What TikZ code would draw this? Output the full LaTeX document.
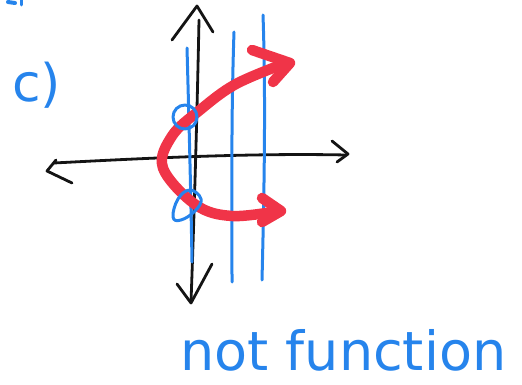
\documentclass[tikz,border=0pt]{standalone}
\usepackage{fontspec}
\setmainfont{DejaVu Sans}
\definecolor{penblue}{RGB}{38,132,236}
\definecolor{penred}{RGB}{240,52,72}
\definecolor{penblack}{RGB}{20,20,20}
\tikzset{
  axis/.style={draw=penblack,line width=2.8pt,line cap=round,line join=round},
  blueline/.style={draw=penblue,line width=3pt,line cap=round,line join=round},
  redline/.style={draw=penred,line width=10.5pt,line cap=round,line join=round},
  label/.style={text=penblue,inner sep=0pt,anchor=base west}
}
\begin{document}
\begin{tikzpicture}[x=1pt,y=-1pt]
\useasboundingbox (0,0) rectangle (522,385);
% axes
\draw[axis] (199,20) .. controls (197,120) and (194,220) .. (191,302);
\draw[axis] (172,40) -- (197,6) -- (213,32);
\draw[axis] (177,284) -- (191,303) -- (212,264);
\draw[axis] (54,163) .. controls (150,158) and (250,153) .. (346,155);
\draw[axis] (56,160) -- (47,171) -- (72,183);
\draw[axis] (332,141) -- (348,154) -- (337,162);
% vertical lines
\draw[blueline] (187,48) .. controls (189,120) and (191,200) .. (192,262);
\draw[blueline] (234,32) .. controls (231,120) and (232,200) .. (232,282);
\draw[blueline] (263,15) .. controls (266,100) and (264,200) .. (262,280);
% red curve
\draw[redline] plot[smooth,tension=0.6] coordinates {(278,211) (232,216) (196,205) (163,168) (172,136) (200,110) (236,84) (286,63)};
\draw[redline] (252,50) -- (290,63) -- (273,82);
\draw[redline] (262,198) -- (281,211) -- (262,222);
% circles
\draw[blueline] (185,117) circle (12);
\draw[blueline] plot[smooth cycle,tension=0.7] coordinates {(190,190) (201,199) (195,211) (181,220) (173,217) (178,199)};
% stray mark top-left
\draw[blueline,line width=4pt] (8,2) -- (15,3);
\draw[blueline] (21,0) -- (21,5);
% texts
\node[label,font=\fontsize{52}{56}\selectfont] (c) at (12,102) {c)};
\node[label,font=\fontsize{54}{58}\selectfont] (nf) at (180,370) {not function};
\end{tikzpicture}
\end{document}
